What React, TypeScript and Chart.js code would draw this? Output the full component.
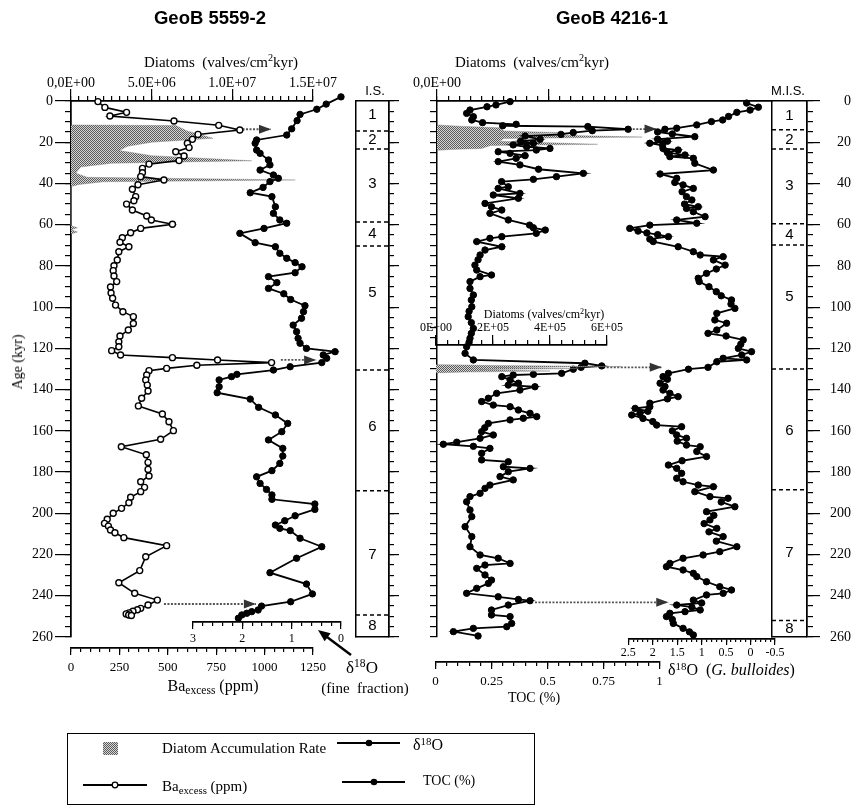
import React, { useEffect, useRef } from 'react';
import { Chart, registerables } from 'chart.js';

Chart.register(...registerables);

const W = 851;
const H = 807;
const SERIF = '"Liberation Serif", "Times New Roman", serif';
const SANS = '"Liberation Sans", Arial, sans-serif';

// ---------------- data ----------------
// GeoB 5559-2 : Ba excess (ppm)
const BA_AGE = [0.3,3.1,5.5,7.3,9.7,11.8,14.1,16.2,18.6,20.5,22.6,24.6,26.7,28.9,30.6,32.7,34.8,36.7,38.3,40.6,42.8,46.4,48.4,50.0,52.9,55.8,57.7,59.8,61.8,63.9,66.3,68.5,70.7,73.1,77.1,79.9,82.3,84.9,87.6,90.2,93.1,95.7,99.0,102.2,104.6,107.9,111.1,114.0,116.8,119.2,121.1,123.2,124.5,125.6,126.9,128.2,129.7,130.8,132.9,135.3,137.8,140.7,144.2,147.9,151.8,155.6,159.9,164.1,167.7,171.6,175.3,178.7,181.9,184.7,187.4,189.5,192.2,194.9,197.6,200.0,202.9,204.9,206.2,208.1,209.4,211.8,215.7,221.1,227.8,233.7,238.8,242.1,244.5,246.1,246.8,247.5,248.3,248.8,249.3,249.6];
const BA_PPM = [139,175,287,201,532,763,872,656,627,601,610,541,584,558,403,369,369,360,480,346,317,334,325,287,317,391,415,524,360,308,265,253,299,247,239,222,218,222,236,204,207,215,230,268,322,322,296,253,247,247,210,256,524,757,1036,650,494,403,391,386,394,398,365,348,472,506,529,463,260,389,398,398,403,360,380,360,308,299,261,218,187,173,193,204,227,273,494,386,355,247,329,446,398,360,343,320,300,285,298,312];

// GeoB 5559-2 : d18O fine fraction
const O18_L_AGE = [-2,1.5,4.0,6.5,9.5,13.5,16.5,18.9,20.5,23.8,25.4,28.6,31.0,33.5,35.9,37.5,39.1,41.9,44.5,46.4,51.3,54.5,57.7,59.3,61.8,64.2,68.7,70.7,73.9,76.3,78.4,80.4,83.3,85.2,88.1,90.9,93.5,96.3,99.3,102.2,105.4,108.7,111.9,115.1,117.5,120.0,121.6,123.2,124.8,126.9,128.9,130.5,132.6,133.7,135.3,138.6,141.5,144.6,148.6,152.3,156.4,160.4,164.4,168.5,172.2,175.8,179.3,182.3,185.5,188.4,191.1,193.2,195.5,198.1,201.2,203.6,205.7,207.3,208.4,212.1,216.2,221.8,228.8,234.3,239.1,242.9,245.0,246.9,247.7,248.5,249.3,250.9];
const O18_L_VAL = [0.0,0.3,0.49,0.83,0.89,1.0,1.10,1.71,1.74,1.71,1.64,1.47,1.44,1.64,1.37,1.27,1.44,1.58,1.84,1.40,1.33,1.37,1.24,1.10,1.56,2.05,1.74,1.33,1.24,1.10,0.93,0.79,0.93,1.47,1.30,1.47,1.16,1.02,0.73,0.76,0.80,0.97,0.90,0.87,0.83,0.70,0.12,0.36,0.29,0.39,1.03,1.37,2.11,2.22,2.47,2.47,2.51,1.84,1.67,1.33,1.08,1.20,1.47,1.18,1.18,1.24,1.40,1.71,1.64,1.51,1.40,1.40,0.53,0.53,0.93,1.14,1.33,1.24,1.03,0.83,0.39,0.90,1.44,0.70,0.58,1.02,1.61,1.68,1.81,1.91,2.01,2.08];

// GeoB 5559-2 : diatom accumulation rate (valves/cm2kyr)
const DIA_L_AGE = [11.6,11.9,14.5,18.1,20.0,22.0,24.0,26.5,29.0,30.2,32.0,35.0,37.0,38.3,39.2,40.5,41.5,60.5,61.5,62.5,63.5,64.5];
const DIA_L_VAL = [0,6.5e6,7.2e6,8.8e6,5.0e6,3.5e6,3.0e6,5.0e6,11.2e6,2.5e6,0.6e6,0.3e6,1.0e6,13.9e6,2.0e6,0.5e6,0,0,0.4e6,0,0.4e6,0];

// GeoB 4216-1 : TOC (%)
const TOC_AGE = [0.3,1.9,2.8,4.4,6.0,7.6,9.2,10.5,11.3,12.0,12.4,13.7,14.4,15.3,16.2,17.0,18.6,19.5,20.5,21.3,22.2,23.0,23.8,24.6,25.4,26.5,27.8,29.4,31.0,33.1,35.1,36.7,38.0,39.1,41.6,42.4,44.8,45.6,47.2,49.7,51.3,52.9,54.5,57.7,60.2,61.5,62.6,64.2,65.8,66.6,68.2,70.7,72.3,74.7,77.0,79.6,82.0,84.4,85.2,87.6,90.9,94.1,96.5,99.8,102.0,104.6,107.5,110.3,112.7,115.1,117.0,119.2,122.4,125.6,127.2,128.5,129.2,130.1,132.1,132.6,132.9,133.7,135.3,136.9,137.8,138.6,140.2,141.8,144.2,145.8,147.5,148.3,149.9,151.5,153.1,153.9,154.7,156.4,158.5,160.4,162.0,163.6,165.5,166.5,167.5,168.5,170.9,174.1,175.0,177.4,178.2,179.8,182.2,183.8,186.3,187.9,190.3,191.9,194.4,198.4,201.6,206.5,211.3,216.2,220.2,221.8,224.3,225.1,226.7,229.9,232.4,234.0,236.4,238.8,240.5,241.8,242.4,244.5,246.9,249.3,250.1,253.4,255.0,255.8,257.4,259.5];
const TOC_VAL = [0.333,0.27,0.23,0.154,0.139,0.169,0.162,0.21,0.36,0.30,0.68,0.86,0.70,0.615,0.56,0.40,0.467,0.38,0.437,0.347,0.407,0.511,0.45,0.28,0.333,0.40,0.36,0.28,0.377,0.46,0.66,0.54,0.437,0.295,0.325,0.28,0.377,0.258,0.37,0.221,0.25,0.296,0.243,0.325,0.42,0.437,0.49,0.45,0.296,0.243,0.184,0.296,0.221,0.199,0.19,0.176,0.184,0.25,0.199,0.154,0.154,0.169,0.16,0.162,0.15,0.146,0.16,0.169,0.16,0.154,0.15,0.139,0.132,0.169,0.667,0.742,0.65,0.615,0.563,0.437,0.347,0.296,0.333,0.37,0.325,0.444,0.377,0.273,0.236,0.206,0.258,0.333,0.37,0.422,0.452,0.392,0.333,0.236,0.22,0.206,0.258,0.199,0.095,0.035,0.169,0.243,0.206,0.206,0.325,0.303,0.422,0.325,0.288,0.347,0.243,0.221,0.199,0.154,0.139,0.154,0.162,0.132,0.162,0.154,0.199,0.28,0.333,0.221,0.184,0.221,0.25,0.236,0.184,0.139,0.28,0.37,0.422,0.325,0.25,0.25,0.333,0.34,0.318,0.169,0.08,0.19];

// GeoB 4216-1 : d18O G. bulloides
const O18_R_AGE = [1.0,3.0,4.4,5.5,7.5,9.2,10.0,11.6,13.2,13.7,15.0,16.0,17.3,18.5,19.5,20.5,21.5,23.0,23.8,25.0,26.2,27.0,27.8,30.2,33.5,35.4,37.5,39.5,40.7,42.4,44.0,46.4,48.0,50.0,51.3,52.1,53.7,56.1,57.7,59.3,60.2,61.8,63.1,64.0,64.8,65.8,67.0,68.2,70.7,73.1,74.7,75.5,77.1,79.6,81.5,83.6,86.0,87.6,90.1,92.5,94.5,96.5,98.5,100.6,103.0,106.2,107.8,111.1,112.7,114.0,115.9,118.0,120.0,121.6,123.2,124.8,125.6,126.5,129.2,130.1,132.1,133.7,135.0,136.9,138.5,140.2,141.8,143.4,144.5,146.6,148.3,149.1,150.5,151.5,152.3,154.0,155.5,157.2,158.0,160.0,162.0,163.6,165.0,166.9,167.7,170.0,172.5,174.5,176.6,178.2,180.6,183.0,184.7,186.3,187.1,189.5,191.9,192.7,194.5,196.8,199.2,201.0,203.2,205.0,207.3,209.0,211.3,213.5,216.2,218.6,220.2,221.8,224.3,225.9,227.5,229.1,230.7,233.2,235.6,237.2,238.8,239.6,242.1,243.5,244.5,245.5,246.9,247.7,248.5,250.1,251.5,253.4,255.8,257.5,259.0];
const O18_R_VAL = [0.08,-0.16,0.01,0.28,0.45,0.57,0.80,1.10,1.51,1.75,1.9,1.6,1.14,1.9,1.7,2.06,1.8,1.79,1.48,1.7,1.34,1.65,1.17,1.14,0.76,1.85,1.51,1.55,1.38,1.17,1.40,1.31,1.20,1.35,1.07,1.31,1.17,0.93,1.51,1.10,2.06,2.47,2.30,2.12,1.9,1.68,2.06,1.99,1.48,1.17,1.03,0.56,0.76,0.52,0.70,0.90,1.07,1.05,0.85,0.70,0.60,0.39,0.40,0.32,0.69,0.73,0.49,0.69,0.87,0.50,0.15,0.20,0.25,-0.02,0.18,0.56,0.08,0.69,0.87,1.27,1.68,1.79,1.70,1.85,1.75,1.79,1.65,1.48,1.70,2.06,2.06,2.36,2.10,2.26,2.43,2.20,2.00,1.92,1.41,1.60,1.51,1.31,1.50,1.31,1.03,1.10,0.90,1.40,1.68,1.51,1.41,1.51,1.38,1.07,0.76,1.14,0.83,0.46,0.60,0.32,0.90,0.75,0.83,0.95,0.69,0.85,0.56,0.70,0.28,0.63,0.97,1.38,1.65,1.72,1.38,1.17,1.10,0.90,0.63,0.39,0.56,0.90,1.17,1.00,1.51,1.20,1.03,1.34,1.65,1.72,1.60,1.58,1.38,1.25,1.17];

// GeoB 4216-1 : diatom accumulation rates (upper, main scale; lower, inset scale)
const DIA_R_AGE = [11.6,12.2,13.0,14.5,15.5,16.0,17.5,18.2,19.5,21.0,21.6,23.0,23.5,24.0];
const DIA_R_VAL = [0,5e6,14e6,15e6,30e6,14e6,46e6,15e6,14e6,36e6,12e6,10e6,3e6,0];
const DIA_IN_AGE = [127.8,128.3,128.8,129.3,129.8,130.3,131.0,131.5,131.9];
const DIA_IN_VAL = [0,2.0e5,6.5e5,2.0e5,5.0e5,1.5e5,4.0e5,1.0e5,0];

// correlation arrows
const ARROW_L_AGE = [13.7, 125.6, 244.0];
const ARROW_L_FROM = [886, 1084, 480];
const ARROW_L_TO = [1033, 1266, 955];
const ARROW_R_AGE = [13.6, 129.2, 243.2];
const ARROW_R_FROM = [0.865, 0.749, 0.444];
const ARROW_R_TO = [0.987, 1.01, 1.039];

// stages
const IS_BOUNDS = [14.5, 23.3, 58.7, 70.3, 130.5, 189, 249.3];
const IS_LABEL_AGES = [6.8, 18.9, 40, 64.5, 93, 158, 220, 254.7];
const MIS_BOUNDS = [14, 23.3, 59.6, 69.8, 130, 188.6, 252];
const MIS_LABEL_AGES = [7, 18.7, 41, 65, 95, 160, 219, 256];
const STAGE_TEXT = ['1', '2', '3', '4', '5', '6', '7', '8'];

// tick labels
const DIA_L_TICK_VALUES = [0, 5e6, 1e7, 1.5e7];
const DIA_L_TICK_LABELS = ['0,0E+00', '5.0E+06', '1.0E+07', '1.5E+07'];
const DIA_R_TICK_VALUES = [0, 2.5e7, 5e7];
const DIA_R_TICK_LABELS = ['0,0E+00', '2.5E+07', '5.0E+07'];
const DIA_IN_TICK_VALUES = [0, 2e5, 4e5, 6e5];
const DIA_IN_TICK_LABELS = ['0E+00', '2E+05', '4E+05', '6E+05'];

// ---------------- geometry ----------------
const Y_TOP = 101;
const Y_BOT = 637;
const KYR_PX = (Y_BOT - Y_TOP) / 260;
const ageAtPx = (py: number) => (py - Y_TOP) / KYR_PX;

const pts = (ages: number[], vals: number[]) => ages.map((a, i) => ({ x: vals[i], y: a }));
const lab = (vals: number[], labels: string[]) => (v: number) => {
  const i = vals.findIndex((t) => Math.abs(t - v) <= Math.abs(t) * 1e-6 + 1e-9);
  return i >= 0 ? labels[i] : '';
};
const num = (v: number) => String(v);

// ---------------- plugins ----------------
const arrowHeadPlugin = {
  id: 'arrowHeads',
  afterDatasetsDraw(chart: any) {
    const ctx = chart.ctx;
    chart.data.datasets.forEach((ds: any, i: number) => {
      if (!ds.arrowHead) return;
      const el = chart.getDatasetMeta(i).data;
      if (el.length < 2) return;
      const a = el[el.length - 2];
      const b = el[el.length - 1];
      const dx = b.x - a.x;
      const dy = b.y - a.y;
      const len = Math.hypot(dx, dy) || 1;
      const ux = dx / len;
      const uy = dy / len;
      const L = 12;
      const hw = 4.5;
      const bx = b.x - ux * L;
      const by = b.y - uy * L;
      ctx.save();
      ctx.fillStyle = ds.arrowHead;
      ctx.beginPath();
      ctx.moveTo(b.x, b.y);
      ctx.lineTo(bx - uy * hw, by + ux * hw);
      ctx.lineTo(bx + uy * hw, by - ux * hw);
      ctx.closePath();
      ctx.fill();
      ctx.restore();
    });
  },
};

const stagePlugin = {
  id: 'stageLabels',
  afterDatasetsDraw(chart: any, _args: any, opts: any) {
    if (!opts || !opts.ages) return;
    const ys = chart.scales[opts.yId];
    const { left, right } = chart.chartArea;
    const ctx = chart.ctx;
    ctx.save();
    ctx.font = opts.fontSpec;
    ctx.fillStyle = '#000';
    ctx.textAlign = 'center';
    ctx.textBaseline = 'middle';
    opts.ages.forEach((a: number, i: number) => {
      ctx.fillText(opts.texts[i], (left + right) / 2, ys.getPixelForValue(a));
    });
    ctx.restore();
  },
};

// ---------------- helpers ----------------
function ax(id: string, o: any): [string, any, number] {
  const isX = o.pos === 'top' || o.pos === 'bottom';
  const show = o.show !== false;
  const tl = o.tl || 0;
  const cfg: any = {
    type: 'linear',
    axis: isX ? 'x' : 'y',
    position: o.pos,
    min: o.min,
    max: o.max,
    reverse: !!o.reverse,
    weight: o.weight || 0,
    display: show,
    afterFit: (s: any) => {
      if (isX) s.height = o.size || 0;
      else s.width = o.size || 0;
    },
    grid: {
      display: true,
      drawOnChartArea: false,
      drawTicks: tl > 0,
      tickLength: tl,
      tickWidth: 1.2,
      tickColor: '#000',
      color: '#000',
      lineWidth: 1.2,
    },
    border: { display: o.border !== false, color: '#000', width: 1.5 },
    ticks: {
      display: !!o.labels,
      stepSize: o.step,
      autoSkip: false,
      maxRotation: 0,
      minRotation: 0,
      includeBounds: false,
      padding: o.pad ?? 2,
      color: '#000',
      font: o.font,
      crossAlign: o.crossAlign || 'near',
      callback: o.labels || (() => ''),
    },
  };
  if (o.limit != null) {
    cfg.afterBuildTicks = (s: any) => {
      s.ticks = s.ticks.filter((t: any) => t.value <= o.limit + 1e-9);
    };
  }
  return [id, cfg, show ? o.size || 0 : 0];
}

function build(canvas: HTMLCanvasElement, area: any, axes: [string, any, number][], datasets: any[], pluginOpts: any = {}) {
  const sums: any = { left: 0, right: 0, top: 0, bottom: 0 };
  const scales: any = {};
  axes.forEach(([id, cfg, size]) => {
    scales[id] = cfg;
    if (cfg.display) sums[cfg.position] += size;
  });
  const padding = {
    left: area.l - sums.left,
    top: area.t - sums.top,
    right: W - area.r - sums.right,
    bottom: H - area.b - sums.bottom,
  };
  return new Chart(canvas, {
    type: 'line',
    data: { datasets },
    options: {
      responsive: false,
      animation: false,
      devicePixelRatio: 1,
      indexAxis: 'y',
      events: [],
      layout: { padding },
      scales,
      elements: { line: { tension: 0 } },
      plugins: {
        legend: { display: false },
        tooltip: { enabled: false },
        title: { display: false },
        ...pluginOpts,
      },
    } as any,
    plugins: [arrowHeadPlugin, stagePlugin],
  } as any);
}

function dotSeries(data: any[], xId: string, yId: string, open: boolean) {
  return {
    data,
    xAxisID: xId,
    yAxisID: yId,
    borderColor: '#000',
    borderWidth: open ? 1.6 : 1.8,
    pointRadius: open ? 3 : 3.2,
    pointBackgroundColor: open ? '#fff' : '#000',
    pointBorderColor: '#000',
    pointBorderWidth: open ? 1.4 : 1,
    fill: false,
    clip: false,
  };
}
function areaSeries(data: any[], xId: string, yId: string, bg: any) {
  return {
    data,
    xAxisID: xId,
    yAxisID: yId,
    borderColor: 'rgba(120,120,120,0.6)',
    borderWidth: 0.6,
    pointRadius: 0,
    fill: 'origin',
    backgroundColor: bg,
    clip: false,
  };
}
function arrowSeries(age: number, from: number, to: number, xId: string, yId: string) {
  return {
    data: [{ x: from, y: age }, { x: to, y: age }],
    xAxisID: xId,
    yAxisID: yId,
    borderColor: '#555',
    borderWidth: 1.8,
    borderDash: [2, 1.5],
    pointRadius: 0,
    fill: false,
    clip: false,
    arrowHead: '#333',
  };
}
function boundarySeries(age: number, xId: string, yId: string) {
  return {
    data: [{ x: 0, y: age }, { x: 1, y: age }],
    xAxisID: xId,
    yAxisID: yId,
    borderColor: '#000',
    borderWidth: 1.5,
    borderDash: [4, 3],
    pointRadius: 0,
    fill: false,
    clip: false,
  };
}

function makePattern(): any {
  const p = document.createElement('canvas');
  p.width = 2;
  p.height = 2;
  const g = p.getContext('2d');
  if (!g) return '#999';
  g.fillStyle = '#d6d6d6';
  g.fillRect(0, 0, 2, 2);
  g.fillStyle = '#5a5a5a';
  g.fillRect(0, 0, 1, 1);
  g.fillRect(1, 1, 1, 1);
  return g.createPattern(p, 'repeat') || '#999';
}

const ageAxis = { min: 0, max: 260, reverse: true };

// ---------------- component ----------------
const Txt = ({ x, y, children, style, left }: any) => (
  <div
    style={{
      position: 'absolute',
      left: x,
      top: y,
      transform: left ? 'translate(0, -50%)' : 'translate(-50%, -50%)',
      whiteSpace: 'nowrap',
      lineHeight: 1,
      color: '#000',
      ...style,
    }}
  >
    {children}
  </div>
);

const supS = { fontSize: '0.68em', verticalAlign: '0.5em', lineHeight: 0 } as any;
const subS = { fontSize: '0.72em', verticalAlign: '-0.3em', lineHeight: 0 } as any;

export default function App() {
  const refs = useRef<(HTMLCanvasElement | null)[]>([]);

  useEffect(() => {
    const c = refs.current as HTMLCanvasElement[];
    const pat = makePattern();
    const f14 = { family: SERIF, size: 14 };
    const f13 = { family: SERIF, size: 13 };
    const f12 = { family: SERIF, size: 12 };
    const charts: Chart[] = [];

    // C1: left panel - age axis + diatoms
    charts.push(
      build(c[0], { l: 71, t: Y_TOP, r: 313, b: Y_BOT }, [
        ax('yL', { pos: 'left', ...ageAxis, step: 20, tl: 16, labels: num, font: f14, pad: 2, size: 50, weight: 1 }),
        ax('yLm', { pos: 'left', ...ageAxis, step: 5, tl: 6, size: 0, weight: 0 }),
        ax('dL', { pos: 'top', min: 0, max: 1.5e7, step: 5e6, tl: 12, labels: lab(DIA_L_TICK_VALUES, DIA_L_TICK_LABELS), font: f14, pad: -3, size: 40, weight: 1 }),
        ax('dLm', { pos: 'top', min: 0, max: 1.5e7, step: 5e5, tl: 5, size: 0, weight: 0 }),
      ], [areaSeries(pts(DIA_L_AGE, DIA_L_VAL), 'dL', 'yL', pat)])
    );

    // C2: left panel - Ba excess
    charts.push(
      build(c[1], { l: 71, t: Y_TOP, r: 313, b: 648 }, [
        ax('yB', { pos: 'left', min: 0, max: ageAtPx(648), reverse: true, show: false }),
        ax('ba', { pos: 'bottom', min: 0, max: 1250, step: 250, tl: 7, labels: num, font: f13, pad: 5, size: 40, weight: 1 }),
        ax('bam', { pos: 'bottom', min: 0, max: 1250, step: 50, tl: 4, size: 0, weight: 0 }),
      ], [
        dotSeries(pts(BA_AGE, BA_PPM), 'ba', 'yB', true),
        ...ARROW_L_AGE.map((a, i) => arrowSeries(a, ARROW_L_FROM[i], ARROW_L_TO[i], 'ba', 'yB')),
      ])
    );

    // C3: left panel - d18O fine fraction
    charts.push(
      build(c[2], { l: 193, t: Y_TOP, r: 341, b: 622 }, [
        ax('yO', { pos: 'left', min: 0, max: ageAtPx(622), reverse: true, show: false }),
        ax('oL', { pos: 'bottom', min: 0, max: 3, reverse: true, step: 1, tl: 7, labels: num, font: f12, pad: 3, size: 30, weight: 1 }),
        ax('oLm', { pos: 'bottom', min: 0, max: 3, reverse: true, step: 0.2, tl: 4, size: 0, weight: 0 }),
      ], [dotSeries(pts(O18_L_AGE, O18_L_VAL), 'oL', 'yO', false)])
    );

    // C4: I.S. column
    charts.push(
      build(c[3], { l: 356, t: Y_TOP, r: 389, b: Y_BOT }, [
        ax('yI', { pos: 'right', ...ageAxis, step: 20, tl: 10, size: 0, weight: 1 }),
        ax('yIm', { pos: 'right', ...ageAxis, step: 5, tl: 5, size: 0, weight: 0 }),
        ax('yIl', { pos: 'left', ...ageAxis, size: 0 }),
        ax('xIt', { pos: 'top', min: 0, max: 1, size: 0 }),
        ax('xIb', { pos: 'bottom', min: 0, max: 1, size: 0 }),
      ], IS_BOUNDS.map((a) => boundarySeries(a, 'xIt', 'yI')),
      { stageLabels: { yId: 'yI', ages: IS_LABEL_AGES, texts: STAGE_TEXT, fontSpec: '15px ' + SANS } })
    );

    // C5: right panel - age axis + diatoms
    const DR_MAX = ((772 - 437) / (660 - 437)) * 5e7;
    charts.push(
      build(c[4], { l: 437, t: Y_TOP, r: 772, b: Y_BOT }, [
        ax('yR', { pos: 'left', ...ageAxis, step: 5, tl: 7, size: 0 }),
        ax('dR', { pos: 'top', min: 0, max: DR_MAX, step: 2.5e7, tl: 12, labels: lab(DIA_R_TICK_VALUES, DIA_R_TICK_LABELS), font: f14, pad: -3, size: 40, weight: 1, limit: 5e7 }),
        ax('dRm', { pos: 'top', min: 0, max: DR_MAX, step: 2.5e6, tl: 5, size: 0, weight: 0, limit: 5e7 }),
      ], [areaSeries(pts(DIA_R_AGE, DIA_R_VAL), 'dR', 'yR', pat)])
    );

    // C6: right panel - TOC
    charts.push(
      build(c[5], { l: 435.5, t: Y_TOP, r: 659.5, b: 662 }, [
        ax('yT', { pos: 'left', min: 0, max: ageAtPx(662), reverse: true, show: false }),
        ax('toc', { pos: 'bottom', min: 0, max: 1, step: 0.25, tl: 7, labels: num, font: f13, pad: 5, size: 40, weight: 1 }),
        ax('tocm', { pos: 'bottom', min: 0, max: 1, step: 0.05, tl: 4, size: 0, weight: 0 }),
      ], [
        dotSeries(pts(TOC_AGE, TOC_VAL), 'toc', 'yT', false),
        ...ARROW_R_AGE.map((a, i) => arrowSeries(a, ARROW_R_FROM[i], ARROW_R_TO[i], 'toc', 'yT')),
      ])
    );

    // C7: right panel - d18O G. bulloides
    charts.push(
      build(c[6], { l: 628.3, t: Y_TOP, r: 775, b: 639 }, [
        ax('yD', { pos: 'left', min: 0, max: ageAtPx(639), reverse: true, show: false }),
        ax('oR', { pos: 'bottom', min: -0.5, max: 2.5, reverse: true, step: 0.5, tl: 6, labels: num, font: f12, pad: 1, size: 30, weight: 1 }),
        ax('oRm', { pos: 'bottom', min: -0.5, max: 2.5, reverse: true, step: 0.1, tl: 3, size: 0, weight: 0 }),
      ], [dotSeries(pts(O18_R_AGE, O18_R_VAL), 'oR', 'yD', false)])
    );

    // C8: right panel - inset diatom axis
    charts.push(
      build(c[7], { l: 436, t: 345, r: 607, b: Y_BOT }, [
        ax('yN', { pos: 'left', min: ageAtPx(345), max: 260, reverse: true, show: false }),
        ax('dN', { pos: 'top', min: 0, max: 6e5, step: 2e5, tl: 10, labels: lab(DIA_IN_TICK_VALUES, DIA_IN_TICK_LABELS), font: f12, pad: 0, size: 30, weight: 1 }),
        ax('dNm', { pos: 'top', min: 0, max: 6e5, step: 4e4, tl: 5, size: 0, weight: 0 }),
      ], [areaSeries(pts(DIA_IN_AGE, DIA_IN_VAL), 'dN', 'yN', pat)])
    );

    // C9: M.I.S. column with right age labels
    charts.push(
      build(c[8], { l: 772, t: Y_TOP, r: 807, b: Y_BOT }, [
        ax('yM', { pos: 'right', ...ageAxis, step: 20, tl: 13, labels: num, font: f14, pad: 6, crossAlign: 'far', size: 44, weight: 1 }),
        ax('yMm', { pos: 'right', ...ageAxis, step: 5, tl: 6, size: 0, weight: 0 }),
        ax('yMl', { pos: 'left', ...ageAxis, size: 0 }),
        ax('xMt', { pos: 'top', min: 0, max: 1, size: 0 }),
        ax('xMb', { pos: 'bottom', min: 0, max: 1, size: 0 }),
      ], MIS_BOUNDS.map((a) => boundarySeries(a, 'xMt', 'yM')),
      { stageLabels: { yId: 'yM', ages: MIS_LABEL_AGES, texts: STAGE_TEXT, fontSpec: '15px ' + SANS } })
    );

    return () => charts.forEach((ch) => ch.destroy());
  }, []);

  const serif = (size: number) => ({ fontFamily: SERIF, fontSize: size });

  return (
    <div style={{ position: 'absolute', left: 0, top: 0, width: W, height: H, background: '#fff', overflow: 'hidden' }}>
      {Array.from({ length: 9 }).map((_, i) => (
        <canvas
          key={i}
          ref={(el) => {
            refs.current[i] = el;
          }}
          width={W}
          height={H}
          style={{ position: 'absolute', left: 0, top: 0, width: W, height: H }}
        />
      ))}

      <Txt x={210} y={18} style={{ fontFamily: SANS, fontWeight: 'bold', fontSize: 18.5 }}>GeoB 5559-2</Txt>
      <Txt x={612} y={18} style={{ fontFamily: SANS, fontWeight: 'bold', fontSize: 18.5 }}>GeoB 4216-1</Txt>

      <Txt x={221} y={62} style={serif(15)}>Diatoms&nbsp; (valves/cm<span style={supS}>2</span>kyr)</Txt>
      <Txt x={532} y={62} style={serif(15)}>Diatoms&nbsp; (valves/cm<span style={supS}>2</span>kyr)</Txt>
      <Txt x={544} y={314} style={serif(12)}>Diatoms (valves/cm<span style={supS}>2</span>kyr)</Txt>

      <Txt x={375} y={90} style={{ fontFamily: SANS, fontSize: 13 }}>I.S.</Txt>
      <Txt x={788} y={90} style={{ fontFamily: SANS, fontSize: 13 }}>M.I.S.</Txt>

      <div
        style={{
          position: 'absolute', left: 18, top: 362, transform: 'translate(-50%, -50%) rotate(-90deg)',
          whiteSpace: 'nowrap', fontFamily: SERIF, fontSize: 14, lineHeight: 1,
        }}
      >
        Age (kyr)
      </div>

      <Txt x={213} y={686} style={serif(16)}>Ba<span style={subS}>excess</span> (ppm)</Txt>
      <Txt x={362} y={667} style={serif(17)}>δ<span style={supS}>18</span>O</Txt>
      <Txt x={365} y={688} style={serif(15)}>(fine&nbsp; fraction)</Txt>
      <Txt x={534} y={698} style={serif(14)}>TOC (%)</Txt>
      <Txt x={668} y={670} left style={serif(16)}>δ<span style={supS}>18</span>O&nbsp; (<i>G. bulloides</i>)</Txt>

      {/* legend */}
      <div style={{ position: 'absolute', left: 67, top: 733, width: 468, height: 72, border: '1.5px solid #000', boxSizing: 'border-box' }} />
      <Txt x={162} y={748} left style={serif(15)}>Diatom Accumulation Rate</Txt>
      <Txt x={413} y={745} left style={serif(16)}>δ<span style={supS}>18</span>O</Txt>
      <Txt x={162} y={786} left style={serif(15)}>Ba<span style={subS}>excess</span> (ppm)</Txt>
      <Txt x={423} y={781} left style={serif(14)}>TOC (%)</Txt>

      <svg width={W} height={H} style={{ position: 'absolute', left: 0, top: 0, pointerEvents: 'none' }}>
        <defs>
          <pattern id="dith" width="2" height="2" patternUnits="userSpaceOnUse">
            <rect width="2" height="2" fill="#d6d6d6" />
            <rect width="1" height="1" fill="#5a5a5a" />
            <rect x="1" y="1" width="1" height="1" fill="#5a5a5a" />
          </pattern>
        </defs>
        <rect x={103} y={742} width={15} height={13} fill="url(#dith)" />
        <line x1={337} y1={743} x2={400} y2={743} stroke="#000" strokeWidth={1.8} />
        <circle cx={369} cy={743} r={3.3} fill="#000" />
        <line x1={83} y1={785} x2={147} y2={785} stroke="#000" strokeWidth={1.8} />
        <circle cx={115} cy={785} r={2.8} fill="#fff" stroke="#000" strokeWidth={1.3} />
        <line x1={342} y1={782} x2={405} y2={782} stroke="#000" strokeWidth={1.8} />
        <circle cx={374} cy={782} r={3.3} fill="#000" />
        <line x1={351} y1={655} x2={327} y2={637} stroke="#000" strokeWidth={2.4} />
        <polygon points="318,630 330.6,633.2 324.6,641.2" fill="#000" />
      </svg>
    </div>
  );
}
